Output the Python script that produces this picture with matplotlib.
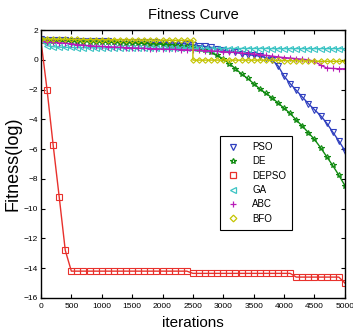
import numpy as np
import matplotlib
matplotlib.use('Agg')
import matplotlib.pyplot as plt
from matplotlib.lines import Line2D

plt.rcParams['font.family'] = ['Liberation Sans', 'DejaVu Sans']

###############################################################################
# Data read off the reference (log fitness, sampled every 100 iterations)

iterations = np.arange(0, 5001, 100)

pso = [1.40, 1.35, 1.32, 1.30, 1.30, 1.28, 1.28, 1.27, 1.26, 1.25,
       1.25, 1.24, 1.23, 1.22, 1.22, 1.21, 1.20, 1.19, 1.18, 1.17,
       1.16, 1.14, 1.12, 1.10, 1.06, 1.00, 0.95, 0.90, 0.84, 0.75,
       0.65, 0.58, 0.50, 0.42, 0.35, 0.30, 0.25, 0.15, 0.00, -0.40,
       -1.10, -1.60, -2.05, -2.50, -2.95, -3.35, -3.75, -4.25, -4.85, -5.45,
       -6.10]

de = [1.30, 1.28, 1.27, 1.26, 1.25, 1.24, 1.23, 1.22, 1.21, 1.20,
      1.19, 1.18, 1.17, 1.16, 1.15, 1.14, 1.12, 1.10, 1.08, 1.06,
      1.04, 1.02, 0.99, 0.96, 0.92, 0.85, 0.75, 0.65, 0.52, 0.30,
      0.05, -0.25, -0.60, -0.95, -1.25, -1.60, -1.95, -2.25, -2.55, -2.90,
      -3.25, -3.60, -4.05, -4.45, -4.90, -5.35, -5.90, -6.50, -7.10, -7.75,
      -8.45]

depso = [1.30, -2.00, -5.70, -9.20, -12.80, -14.20, -14.20, -14.20, -14.20, -14.20,
         -14.20, -14.20, -14.20, -14.20, -14.20, -14.20, -14.20, -14.20, -14.20, -14.20,
         -14.20, -14.20, -14.20, -14.20, -14.20, -14.35, -14.35, -14.35, -14.35, -14.35,
         -14.35, -14.35, -14.35, -14.35, -14.35, -14.35, -14.35, -14.35, -14.35, -14.35,
         -14.35, -14.35, -14.60, -14.60, -14.60, -14.60, -14.60, -14.60, -14.60, -14.60,
         -15.00]

ga = [1.30, 0.95, 0.88, 0.85, 0.84, 0.83, 0.82, 0.82, 0.81, 0.81,
      0.80, 0.80, 0.80, 0.79, 0.79, 0.79, 0.78, 0.78, 0.78, 0.78,
      0.77, 0.77, 0.77, 0.77, 0.77, 0.77, 0.77, 0.76, 0.76, 0.76,
      0.76, 0.76, 0.76, 0.76, 0.76, 0.76, 0.76, 0.76, 0.75, 0.75,
      0.75, 0.75, 0.75, 0.75, 0.75, 0.75, 0.75, 0.75, 0.75, 0.75,
      0.75]

abc = [1.25, 1.20, 1.18, 1.15, 1.12, 1.08, 1.02, 0.98, 0.95, 0.92,
       0.90, 0.88, 0.86, 0.84, 0.82, 0.80, 0.78, 0.77, 0.75, 0.74,
       0.72, 0.71, 0.70, 0.68, 0.67, 0.66, 0.64, 0.62, 0.60, 0.58,
       0.55, 0.52, 0.50, 0.46, 0.43, 0.40, 0.35, 0.30, 0.25, 0.20,
       0.15, 0.12, 0.08, 0.04, 0.00, -0.10, -0.35, -0.55, -0.58, -0.60,
       -0.60]

# BFO has a sudden drop at 2500, so that iteration appears twice
bfo_iterations = np.insert(iterations, 26, 2500)
bfo = [1.40, 1.39, 1.39, 1.38, 1.38, 1.37, 1.37, 1.36, 1.36, 1.36,
       1.35, 1.35, 1.35, 1.34, 1.34, 1.34, 1.33, 1.33, 1.33, 1.32,
       1.32, 1.32, 1.31, 1.31, 1.31, 1.30, -0.02, -0.02, -0.02, -0.02,
       -0.02, -0.02, -0.02, -0.02, -0.02, -0.02, -0.02, -0.02, -0.03, -0.03,
       -0.04, -0.05, -0.06, -0.07, -0.08, -0.08, -0.09, -0.10, -0.10, -0.10,
       -0.10, -0.10]

series = [
    ('PSO',   iterations,     pso,   '#2f3fbf', 'v'),
    ('DE',    iterations,     de,    '#108a10', '*'),
    ('DEPSO', iterations,     depso, '#e8312c', 's'),
    ('GA',    iterations,     ga,    '#3cc4c4', '<'),
    ('ABC',   iterations,     abc,   '#b81cb8', '+'),
    ('BFO',   bfo_iterations, bfo,   '#c4c400', 'D'),
]

###############################################################################
fig = plt.figure(figsize=(3.53, 3.34), dpi=100)
ax = fig.add_axes([0.116, 0.108, 0.861, 0.802])

legend_handles = []
for name, x, y, color, marker in series:
    ms = 2.8 if marker == 'D' else 3.8
    ax.plot(x, y, color=color, lw=1.0, marker=marker, ms=ms,
            mfc='none', mec=color, mew=0.8)
    # legend shows markers only, like the MATLAB original
    legend_handles.append(Line2D([], [], ls='none', marker=marker, ms=ms + 0.6,
                                 mfc='none', mec=color, mew=0.9, label=name))

ax.set_xlim(0, 5000)
ax.set_ylim(-16, 2)
ax.set_xticks(np.arange(0, 5001, 500))
ax.set_yticks(np.arange(-16, 3, 2))
ax.tick_params(direction='in', top=True, right=True, labelsize=6,
               length=3, width=0.8)
ax.tick_params(axis='x', pad=4)
ax.tick_params(axis='y', pad=2)
for spine in ax.spines.values():
    spine.set_linewidth(1.0)

ax.set_title('Fitness Curve', fontsize=10.5, pad=8)
ax.set_xlabel('iterations', fontsize=11, labelpad=4)
ax.set_ylabel('Fitness(log)', fontsize=13, labelpad=2)

leg = ax.legend(handles=legend_handles, loc='upper left', bbox_to_anchor=(0.589, 0.604),
                fontsize=7, fancybox=False, edgecolor='black', framealpha=1,
                handlelength=1.5, handletextpad=1.2, labelspacing=0.45,
                borderpad=0.6, borderaxespad=0)
leg.get_frame().set_linewidth(0.8)

fig.savefig('out.png', dpi=100)
plt.close(fig)
